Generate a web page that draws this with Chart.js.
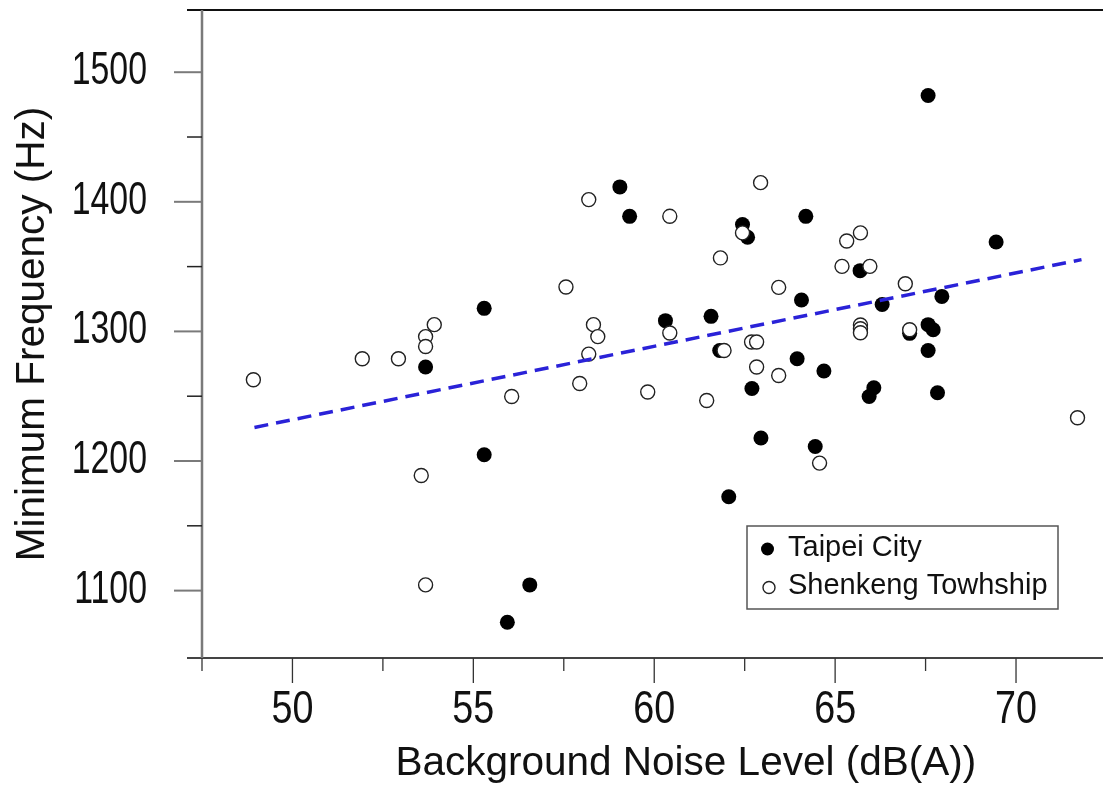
<!DOCTYPE html>
<html>
<head>
<meta charset="utf-8">
<script src="https://cdn.jsdelivr.net/npm/chart.js@4/dist/chart.umd.min.js"></script>
<style>
  html, body { margin: 0; padding: 0; background: #fff; overflow: hidden; }
  #wrap { width: 1103px; height: 792px; overflow: hidden; position: relative; }
  canvas { display: block; }
</style>
</head>
<body>
<div id="wrap"><canvas id="chart" width="1178" height="792" style="width:1178px;height:792px"></canvas></div>
<script>
// Taipei City (filled) and Shenkeng Towhship (open) samples
const taipeiX = [59.05, 59.32, 55.30, 67.57, 62.44, 62.58, 64.19, 69.45, 65.69, 64.07, 66.30,
                 67.95, 60.31, 61.57, 67.06, 67.57, 67.71, 61.81, 67.57, 63.95, 64.69, 62.70,
                 66.07, 65.94, 67.83, 62.95, 64.45, 62.06, 53.68, 55.30, 56.56, 55.94];
const taipeiY = [1411.5, 1388.8, 1317.8, 1482, 1382.4, 1372.6, 1388.8, 1369, 1346.9, 1324.2, 1320.8,
                 1327, 1308.3, 1311.6, 1298.5, 1305.2, 1301.3, 1285.3, 1285.3, 1278.9, 1269.4, 1256,
                 1256.5, 1249.8, 1252.7, 1217.7, 1211.2, 1172.4, 1272.5, 1204.8, 1104.4, 1075.6];

const shenkengX = [58.19, 57.56, 53.92, 53.68, 58.32, 58.44, 62.94, 60.43, 62.44, 65.70, 65.32,
                   61.83, 65.19, 65.96, 63.44, 66.94, 60.43, 62.69, 62.83, 65.70, 65.70, 65.70,
                   67.06, 61.93, 62.83, 63.44, 59.82, 61.45, 71.70, 64.57, 48.92, 51.93, 52.93,
                   53.68, 56.06, 57.94, 58.19, 53.56, 53.68];
const shenkengY = [1401.7, 1334.3, 1305.2, 1296, 1305.2, 1296, 1414.8, 1388.8, 1376, 1376, 1369.8,
                   1356.7, 1350.2, 1350.2, 1334, 1336.8, 1298.8, 1291.8, 1291.8, 1305, 1302, 1299,
                   1301.3, 1285.3, 1272.5, 1266, 1253.2, 1246.7, 1233.4, 1198.4, 1262.7, 1278.9, 1278.9,
                   1288.4, 1249.8, 1259.8, 1282.5, 1188.8, 1104.4];

// regression line end points
const fitX = [48.95, 71.81];
const fitY = [1225.9, 1355.4];

// axes
const xMajorTicks = [50, 55, 60, 65, 70];
const xMinorTicks = [47.5, 52.5, 57.5, 62.5, 67.5, 72.5];
const yMajorTicks = [1100, 1200, 1300, 1400, 1500];
const yMinorTicks = [1150, 1250, 1350, 1450];

const seriesNames = ['Taipei City', 'Shenkeng Towhship'];

const toPoints = (xs, ys) => xs.map((x, i) => ({ x: x, y: ys[i] }));

const regular = "'Liberation Sans', Arial, sans-serif";

// squeezed tick text, like the narrow face of the original
function drawSqueezed(ctx, text, x, y, size, sx, align) {
  ctx.save();
  ctx.translate(x, y);
  ctx.scale(sx, 1);
  ctx.font = size + 'px ' + regular;
  ctx.fillStyle = '#111';
  ctx.textAlign = align;
  ctx.textBaseline = 'middle';
  ctx.fillText(text, 0, 0);
  ctx.restore();
}

// spines, tick marks, tick labels and the boxed legend
const framePlugin = {
  id: 'frame',
  afterDatasetsDraw(chart) {
    const ctx = chart.ctx;
    const ca = chart.chartArea;
    const xs = chart.scales.x, ys = chart.scales.y;
    const line = (x1, y1, x2, y2, color, w) => {
      ctx.beginPath();
      ctx.moveTo(x1, y1);
      ctx.lineTo(x2, y2);
      ctx.strokeStyle = color;
      ctx.lineWidth = w;
      ctx.stroke();
    };
    ctx.save();
    line(187, ca.top, chart.width, ca.top, '#111', 2);
    line(187, ca.bottom, chart.width, ca.bottom, '#444', 2);
    line(ca.left, ca.top, ca.left, ca.bottom, '#7a7a7a', 2.5);
    yMajorTicks.forEach(v => {
      const y = ys.getPixelForValue(v);
      line(ca.left - 28, y, ca.left, y, '#7a7a7a', 2);
      drawSqueezed(ctx, String(v), 147, y - 1, 47, 0.72, 'right');
    });
    yMinorTicks.forEach(v => {
      const y = ys.getPixelForValue(v);
      line(ca.left - 15, y, ca.left, y, '#222', 1.5);
    });
    xMajorTicks.forEach(v => {
      const x = xs.getPixelForValue(v);
      line(x, ca.bottom, x, ca.bottom + 25, '#333', 1.3);
      drawSqueezed(ctx, String(v), x, 710, 46, 0.82, 'center');
    });
    xMinorTicks.forEach(v => {
      const x = xs.getPixelForValue(v);
      line(x, ca.bottom, x, ca.bottom + 13, '#333', 1.3);
    });
    ctx.restore();
  },
  afterDraw(chart) {
    const ctx = chart.ctx;
    ctx.save();
    ctx.fillStyle = '#fff';
    ctx.fillRect(747, 526, 311, 83);
    ctx.strokeStyle = '#555';
    ctx.lineWidth = 1.5;
    ctx.strokeRect(747, 526, 311, 83);

    ctx.beginPath();
    ctx.arc(767.5, 549, 6.5, 0, Math.PI * 2);
    ctx.fillStyle = '#000';
    ctx.fill();

    ctx.beginPath();
    ctx.arc(769, 587.5, 6, 0, Math.PI * 2);
    ctx.fillStyle = '#fff';
    ctx.fill();
    ctx.strokeStyle = '#222';
    ctx.lineWidth = 1.4;
    ctx.stroke();

    ctx.fillStyle = '#111';
    ctx.font = '29px ' + regular;
    ctx.textAlign = 'left';
    ctx.textBaseline = 'middle';
    ctx.fillText(seriesNames[0], 788, 548);
    ctx.fillText(seriesNames[1], 788, 586);
    ctx.restore();
  }
};

new Chart(document.getElementById('chart'), {
  type: 'scatter',
  data: {
    datasets: [
      {
        label: 'fit',
        type: 'line',
        data: toPoints(fitX, fitY),
        borderColor: '#2a22d8',
        borderWidth: 3.5,
        borderDash: [14, 8],
        pointRadius: 0,
        fill: false,
        order: -1
      },
      {
        label: seriesNames[1],
        data: toPoints(shenkengX, shenkengY),
        pointRadius: 7,
        pointBackgroundColor: '#fff',
        pointBorderColor: '#222',
        pointBorderWidth: 1.4,
        order: 0
      },
      {
        label: seriesNames[0],
        data: toPoints(taipeiX, taipeiY),
        pointRadius: 7.5,
        pointBackgroundColor: '#000',
        pointBorderColor: '#000',
        pointBorderWidth: 0,
        order: 1
      }
    ]
  },
  options: {
    responsive: false,
    animation: false,
    layout: { padding: { top: 10, right: 0, left: 0, bottom: 0 } },
    plugins: {
      legend: { display: false },
      tooltip: { enabled: false }
    },
    scales: {
      x: {
        type: 'linear',
        min: 47.5,
        max: 74.245,
        afterBuildTicks: s => { s.ticks = xMajorTicks.map(v => ({ value: v })); },
        afterFit: s => { s.height = 134; s.paddingLeft = 0; s.paddingRight = 0; },
        grid: { display: false, drawTicks: false },
        border: { display: false },
        ticks: { display: false },
        title: {
          display: true,
          text: 'Background Noise Level (dB(A))',
          color: '#111',
          font: { family: regular, size: 40.5 },
          padding: { top: 0, bottom: 4 }
        }
      },
      y: {
        type: 'linear',
        min: 1048,
        max: 1548,
        afterBuildTicks: s => { s.ticks = yMajorTicks.map(v => ({ value: v })); },
        afterFit: s => { s.width = 202; s.paddingTop = 0; s.paddingBottom = 0; },
        grid: { display: false, drawTicks: false },
        border: { display: false },
        ticks: { display: false },
        title: {
          display: true,
          text: 'Minimum Frequency (Hz)',
          color: '#111',
          font: { family: regular, size: 40.5 },
          padding: { top: 9, bottom: 0 }
        }
      }
    }
  },
  plugins: [framePlugin]
});
</script>
</body>
</html>
